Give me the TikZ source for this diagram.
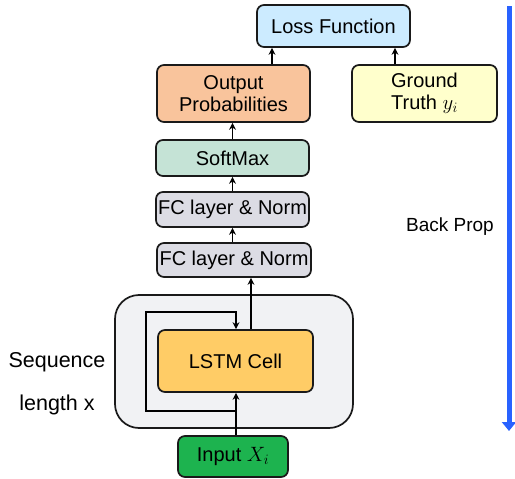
\documentclass[tikz,border=0pt]{standalone}
\usepackage{fontspec}
\setmainfont{Liberation Sans}
\usetikzlibrary{arrows.meta}
\definecolor{cLoss}{HTML}{CCEBFF}
\definecolor{cOut}{HTML}{F9C49C}
\definecolor{cGT}{HTML}{FFFFCC}
\definecolor{cSoft}{HTML}{C5E3D6}
\definecolor{cFC}{HTML}{DCDCE4}
\definecolor{cOuter}{HTML}{F1F2F4}
\definecolor{cLSTM}{HTML}{FFCC66}
\definecolor{cIn}{HTML}{1DB34F}
\definecolor{cBlue}{HTML}{2962FF}
\definecolor{cLine}{HTML}{1A1A1A}
\tikzset{
  blk/.style={draw=cLine, line width=1.7pt, rounded corners=7pt, align=center,
    inner sep=0pt, font=\fontsize{20}{22}\selectfont},
  arr/.style={draw=black, line width=1.7pt, -{Stealth[length=7pt,width=7pt]}},
  lbl/.style={font=\fontsize{20}{22}\selectfont, inner sep=0pt}
}
\begin{document}
\begin{tikzpicture}[x=1pt,y=-1pt]
\useasboundingbox (0,0) rectangle (515,479);
% outer sequence box
\node[blk, fill=cOuter, rounded corners=24pt, minimum width=238pt, minimum height=133pt] (outer) at (234,361.5) {};
% nodes
\node[blk, fill=cLoss, minimum width=153pt, minimum height=42pt] (loss) at (333.5,26) {Loss Function};
\node[blk, fill=cOut, minimum width=153pt, minimum height=57pt] (outp) at (233.5,93.5) {Output\\Probabilities};
\node[blk, fill=cGT, minimum width=145pt, minimum height=57pt] (gt) at (424.5,93.5) {Ground\\Truth $y_i$};
\node[blk, fill=cSoft, minimum width=153pt, minimum height=36pt] (soft) at (232.5,158) {SoftMax};
\node[blk, fill=cFC, minimum width=153pt, minimum height=35pt] (fca) at (232.5,209.5) {FC layer \& Norm};
\node[blk, fill=cFC, minimum width=154pt, minimum height=34pt] (fcb) at (234,260) {FC layer \& Norm};
\node[blk, fill=cLSTM, minimum width=155pt, minimum height=62pt] (lstm) at (235.5,361) {LSTM Cell};
\node[blk, fill=cIn, minimum width=110pt, minimum height=41pt] (inp) at (233,456.5) {Input $X_i$};
% labels
\node[lbl, font=\fontsize{21.5}{24}\selectfont] (seq) at (57,362) {Sequence};
\node[lbl, font=\fontsize{21.5}{24}\selectfont] (len) at (57,405) {length x};
\node[lbl, font=\fontsize{19}{21}\selectfont] (bp) at (450,227) {Back Prop};
% helper coordinates
\coordinate (xa) at (236,0);
\coordinate (xb) at (251,0);
\coordinate (xc) at (272,0);
\coordinate (xd) at (395,0);
\coordinate (loopA) at (236,411);
\coordinate (loopB) at (146,411);
\coordinate (loopC) at (146,312);
\coordinate (loopD) at (236,312);
\coordinate (bpTop) at (509,6);
\coordinate (bpBot) at (509,431);
% connectors
\draw[arr] (inp.north -| xa) -- (lstm.south -| xa);
\draw[arr] (loopA) -- (loopB) -- (loopC) -- (loopD) -- (lstm.north -| xa);
\draw[arr] (lstm.north -| xb) -- (fcb.south -| xb);
\draw[arr] (fcb.north -| fca.south) -- (fca.south);
\draw[arr] (fca.north) -- (soft.south);
\draw[arr] (soft.north) -- (soft.north |- outp.south);
\draw[arr] (outp.north -| xc) -- (loss.south -| xc);
\draw[arr] (gt.north -| xd) -- (loss.south -| xd);
% back prop arrow
\draw[cBlue, line width=5pt, -{Triangle[length=9pt,width=14pt]}] (bpTop) -- (bpBot);
\end{tikzpicture}
\end{document}
